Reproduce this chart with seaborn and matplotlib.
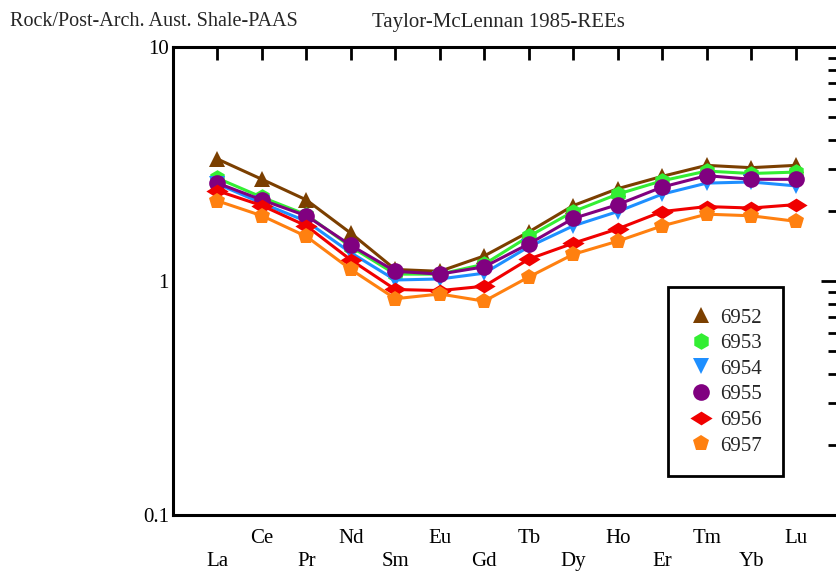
import numpy as np
import pandas as pd
import matplotlib
matplotlib.use("Agg")
import matplotlib.pyplot as plt
import seaborn as sns
from matplotlib.lines import Line2D
from matplotlib.path import Path
from matplotlib.ticker import LogLocator, NullFormatter, FixedLocator

# REE pattern normalised to PAAS
elements = ["La", "Ce", "Pr", "Nd", "Sm", "Eu", "Gd", "Tb", "Dy", "Ho", "Er", "Tm", "Yb", "Lu"]
samples = ["6952", "6953", "6954", "6955", "6956", "6957"]

s6952 = [3.32, 2.72, 2.22, 1.60, 1.12, 1.10, 1.28, 1.62, 2.10, 2.48, 2.80, 3.12, 3.05, 3.12]
s6953 = [2.75, 2.28, 1.92, 1.40, 1.07, 1.07, 1.18, 1.55, 1.98, 2.35, 2.68, 2.95, 2.88, 2.92]
s6954 = [2.60, 2.15, 1.80, 1.32, 1.01, 1.02, 1.08, 1.40, 1.72, 1.98, 2.35, 2.62, 2.65, 2.55]
s6955 = [2.62, 2.22, 1.90, 1.42, 1.10, 1.07, 1.15, 1.44, 1.85, 2.12, 2.52, 2.82, 2.72, 2.72]
s6956 = [2.43, 2.10, 1.72, 1.23, 0.92, 0.91, 0.95, 1.24, 1.45, 1.67, 1.98, 2.08, 2.05, 2.12]
s6957 = [2.20, 1.90, 1.55, 1.12, 0.84, 0.88, 0.82, 1.04, 1.30, 1.48, 1.72, 1.93, 1.90, 1.80]
values = [s6952, s6953, s6954, s6955, s6956, s6957]

colors = {"6952": "#7b3f00", "6953": "#33ee33", "6954": "#1e8fff",
          "6955": "#800080", "6956": "#f00000", "6957": "#ff8010"}
wide_diamond = Path([(-1, 0), (0, 0.62), (1, 0), (0, -0.62), (-1, 0)],
                    [Path.MOVETO, Path.LINETO, Path.LINETO, Path.LINETO, Path.CLOSEPOLY])
markers = {"6952": "^", "6953": "h", "6954": "v", "6955": "o",
           "6956": wide_diamond, "6957": "p"}
msize = {"6952": 12, "6953": 12, "6954": 12, "6955": 12, "6956": 16, "6957": 12}

rows = []
for name, vals in zip(samples, values):
    for i, v in enumerate(vals):
        rows.append({"idx": i, "value": v, "sample": name})
df = pd.DataFrame(rows)

sns.set_style("white")
plt.rcParams["font.family"] = ["Liberation Serif", "DejaVu Serif"]

fig = plt.figure(figsize=(8.37, 5.71), dpi=100)
ax = fig.add_axes([173 / 837, 1 - 515 / 571, 667 / 837, 468 / 571])

sns.lineplot(data=df, x="idx", y="value", hue="sample", style="sample",
             hue_order=samples, style_order=samples, palette=colors,
             markers=markers, dashes=False, markersize=12, linewidth=2.2,
             markeredgewidth=0, legend=False, ax=ax)
# bigger wide diamond for 6956
for line, name in zip(ax.lines, samples):
    line.set_markersize(msize[name])

ax.set_yscale("log")
ax.set_ylim(0.1, 10)
ax.set_xlim(-1, 14)
ax.set_xlabel("")
ax.set_ylabel("")

ax.yaxis.set_major_locator(FixedLocator([0.1, 1, 10]))
ax.yaxis.set_minor_locator(LogLocator(base=10, subs=np.arange(2, 10)))
ax.yaxis.set_minor_formatter(NullFormatter())
ax.set_yticklabels(["0.1", "1", "10"])

ax.set_xticks(range(len(elements)))
ax.set_xticklabels([e if i % 2 else "\n" + e for i, e in enumerate(elements)],
                   linespacing=1.3)

for sp in ax.spines.values():
    sp.set_linewidth(2.2)
    sp.set_color("black")
    sp.set_visible(True)

ax.tick_params(axis="both", which="both", direction="in", top=True, right=True,
               colors="black", width=2, labelsize=15)
ax.tick_params(axis="y", which="major", length=14, pad=3)
ax.tick_params(axis="y", which="minor", length=9)
ax.tick_params(axis="x", which="major", length=9, pad=10)

handles = [Line2D([], [], linestyle="none", marker=markers[s], color=colors[s],
                  markersize=msize[s], markeredgewidth=0) for s in samples]
leg = ax.legend(handles, samples, loc="upper left", bbox_to_anchor=(0.742, 0.487),
                fontsize=15, frameon=True, fancybox=False, framealpha=1,
                edgecolor="black", handlelength=1.2, handletextpad=0.3,
                labelspacing=0.29, borderpad=1.0, borderaxespad=0)
leg.get_frame().set_linewidth(2)

fig.text(10 / 837, 1 - 22 / 571, "Rock/Post-Arch. Aust. Shale-PAAS", fontsize=14.5,
         va="center", ha="left")
fig.text(372 / 837, 1 - 22 / 571, "Taylor-McLennan 1985-REEs", fontsize=15,
         va="center", ha="left")

fig.savefig("out.png", dpi=100)
